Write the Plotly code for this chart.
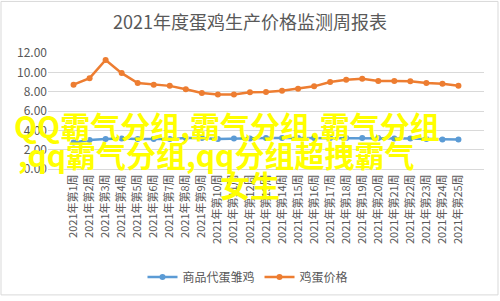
import plotly.graph_objects as go

weeks = [f"2021年第{i}周" for i in range(1, 26)]
chick_price = [2.75, 3.0, 3.1, 3.15, 3.1, 3.1, 3.1, 3.2, 3.2, 3.1, 3.15, 3.15, 3.2,
               3.2, 3.2, 3.2, 3.2, 3.2, 3.2, 3.2, 3.15, 3.15, 3.1, 3.05, 3.05]
egg_price = [8.72, 9.4, 11.28, 9.92, 8.89, 8.72, 8.6, 8.25, 7.86, 7.7, 7.7, 7.93, 7.97,
             8.1, 8.3, 8.55, 9.0, 9.23, 9.33, 9.1, 9.1, 9.07, 8.89, 8.82, 8.62]
series_names = ["商品代蛋雏鸡", "鸡蛋价格"]
title_text = "2021年度蛋鸡生产价格监测周报表"
overlay_lines = ["QQ霸气分组,霸气分组,霸气分组", ",qq霸气分组,qq分组超拽霸气", "女生"]
y_ticks = [0, 2, 4, 6, 8, 10, 12]

FONT = "Noto Sans CJK SC, Microsoft YaHei, sans-serif"
L, R, T, B = 48, 16, 53, 131
W, H = 500, 301
PW, PH = W - L - R, H - T - B


def px(x):
    return (x - L) / PW


def py(y):
    return (H - B - y) / PH


fig = go.Figure()
fig.add_trace(go.Scatter(x=weeks, y=chick_price, name=series_names[0], mode="lines+markers",
                         line=dict(color="#5B9BD5", width=2.5),
                         marker=dict(color="#5B9BD5", size=6)))
fig.add_trace(go.Scatter(x=weeks, y=egg_price, name=series_names[1], mode="lines+markers",
                         line=dict(color="#ED7D31", width=2.5),
                         marker=dict(color="#ED7D31", size=6)))

annots = []
pos = [(227, 126), (216, 155), (250, 185)]
for txt, (x, y) in zip(overlay_lines, pos):
    annots.append(dict(text=f"<b>{txt}</b>", x=px(x), y=py(y), xref="paper", yref="paper",
                       xanchor="center", yanchor="middle", showarrow=False,
                       font=dict(family=FONT, size=30, color="#FFFF00")))

fig.update_layout(
    width=W, height=H,
    margin=dict(l=L, r=R, t=T, b=B),
    paper_bgcolor="white", plot_bgcolor="white",
    title=dict(text=title_text, x=0.5, xanchor="center", y=1 - 23 / H, yanchor="middle",
               font=dict(family=FONT, size=18, color="#595959")),
    font=dict(family=FONT, color="#595959"),
    showlegend=True,
    legend=dict(orientation="h", x=px(248), xanchor="center", y=py(277), yanchor="middle",
                font=dict(family=FONT, size=12, color="#595959"), bgcolor="rgba(0,0,0,0)"),
    annotations=annots,
    shapes=[dict(type="rect", xref="paper", yref="paper", x0=px(1), x1=px(498), y0=py(297), y1=py(1),
                 line=dict(color="#D9D9D9", width=1), layer="below")],
)
fig.update_xaxes(type="category", tickangle=-90, showgrid=False, showline=True, linecolor="#D9D9D9",
                 linewidth=1, ticks="", tickfont=dict(family=FONT, size=11, color="#595959"))
fig.update_yaxes(range=[0, 12], tickvals=y_ticks, tickformat=".2f", showgrid=True, gridcolor="#D9D9D9",
                 gridwidth=1, zeroline=False, showline=False, ticks="",
                 tickfont=dict(family=FONT, size=12, color="#595959"))

fig.write_html("out.html")
